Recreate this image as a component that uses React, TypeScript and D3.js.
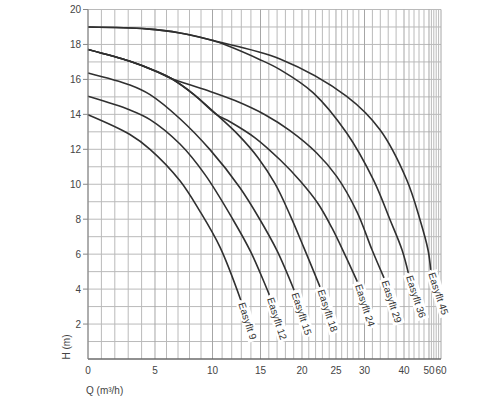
import { useEffect, useRef } from 'react'
import * as d3 from 'd3'

// Q axis is not linear: ticks get closer together towards the right
const Q_TICKS = [0, 5, 10, 15, 20, 25, 30, 40, 50, 60]
// share of the axis length at which each Q tick sits
const Q_TICK_STOPS = [0, 0.1898, 0.3527, 0.4887, 0.6062, 0.7025, 0.7833, 0.8952, 0.966, 1]
const H_TICKS = [2, 4, 6, 8, 10, 12, 14, 16, 18, 20]

// [Q (m³/h), H (m)]
const EASYFLT_9 = [[0, 13.98], [3.13, 12.85], [4.63, 12.0], [7.17, 10.2], [8.91, 8.45], [10.78, 6.4], [12.94, 3.38]]
const EASYFLT_12 = [[0, 15.03], [3.13, 14.25], [4.63, 13.7], [7.17, 12.3], [9.35, 10.55], [12.14, 7.97], [14.01, 6.1], [16.06, 3.67]]
const EASYFLT_15 = [[0, 16.37], [3.13, 15.68], [4.63, 15.13], [7.17, 13.75], [9.78, 11.98], [12.86, 9.8], [14.95, 7.97], [16.99, 6.2], [19.04, 3.95]]
const EASYFLT_18 = [[0, 17.71], [3.13, 17.04], [4.98, 16.5], [6.42, 16.05], [8.39, 15.13], [10.44, 13.98], [12.66, 12.84], [14.74, 11.52], [16.75, 10.03], [18.55, 8.25], [20.29, 6.36], [22.65, 4.13]]
const EASYFLT_24 = [[0, 17.71], [3.13, 17.04], [4.98, 16.5], [6.42, 16.05], [8.39, 15.13], [10.44, 13.98], [11.82, 13.58], [14.43, 12.66], [17.35, 11.4], [19.76, 10.2], [22.35, 8.9], [24.41, 7.5], [26.58, 5.96], [28.74, 4.43]]
const EASYFLT_29 = [[0, 17.71], [3.13, 17.04], [4.98, 16.5], [6.42, 16.05], [9.32, 15.42], [12.34, 14.79], [15.54, 13.98], [18.55, 13.07], [22.16, 11.79], [25.12, 10.45], [28.68, 8.42], [31.9, 6.25], [34.94, 4.64]]
const EASYFLT_36 = [[0, 19.0], [4.38, 18.89], [7.17, 18.66], [10.08, 18.22], [14.95, 17.13], [17.35, 16.56], [21.66, 15.23], [26.88, 12.93], [32.23, 10.26], [36.46, 7.97], [39.49, 6.25], [41.72, 4.93]]
const EASYFLT_45 = [[0, 19.0], [4.38, 18.89], [7.17, 18.66], [10.08, 18.22], [17.35, 17.17], [26.88, 15.03], [33.92, 13.12], [41.08, 10.26], [46.4, 7.97], [49.6, 6.25], [51.42, 5.1]]

const CURVES = [
  { label: 'Easyflt 9', points: EASYFLT_9 },
  { label: 'Easyflt 12', points: EASYFLT_12 },
  { label: 'Easyflt 15', points: EASYFLT_15 },
  { label: 'Easyflt 18', points: EASYFLT_18 },
  { label: 'Easyflt 24', points: EASYFLT_24 },
  { label: 'Easyflt 29', points: EASYFLT_29 },
  { label: 'Easyflt 36', points: EASYFLT_36 },
  { label: 'Easyflt 45', points: EASYFLT_45 },
]

const WIDTH = 500
const HEIGHT = 400
const MARGIN = { left: 88, right: 59, top: 9.5, bottom: 41 }
const FONT = '"Liberation Sans", Arial, sans-serif'

const App = () => {
  const svgRef = useRef<SVGSVGElement>(null)

  useEffect(() => {
    if (!svgRef.current) return
    const svg = d3.select(svgRef.current)
    svg.selectAll('*').remove()

    const plotW = WIDTH - MARGIN.left - MARGIN.right
    const x = d3.scaleLinear()
      .domain(Q_TICKS)
      .range(Q_TICK_STOPS.map(s => MARGIN.left + s * plotW))
    const y = d3.scaleLinear()
      .domain([0, 20])
      .range([HEIGHT - MARGIN.bottom, MARGIN.top])

    svg.append('rect').attr('width', WIDTH).attr('height', HEIGHT).attr('fill', '#fff')

    // grid: every metre, every m³/h up to 30 then every 2
    const grid = svg.append('g').attr('stroke', '#bababa').attr('stroke-width', 1)
    d3.range(0, 21).forEach(h => {
      grid.append('line')
        .attr('x1', x(0)).attr('x2', x(60))
        .attr('y1', y(h)).attr('y2', y(h))
    })
    const qGrid = [...d3.range(0, 31), ...d3.range(32, 61, 2)]
    qGrid.forEach(q => {
      grid.append('line')
        .attr('x1', x(q)).attr('x2', x(q))
        .attr('y1', y(0)).attr('y2', y(20))
        .attr('stroke', Q_TICKS.includes(q) ? '#a6a6a6' : null)
    })

    // curves
    const line = d3.line<number[]>()
      .x(d => x(d[0]))
      .y(d => y(d[1]))
      .curve(d3.curveCatmullRom.alpha(0.5))

    svg.append('g')
      .selectAll('path')
      .data(CURVES)
      .enter()
      .append('path')
      .attr('d', d => line(d.points) || '')
      .attr('fill', 'none')
      .attr('stroke', '#303030')
      .attr('stroke-width', 1.6)

    // model labels at the end of each curve
    CURVES.forEach(c => {
      const last = c.points[c.points.length - 1]
      const g = svg.append('g')
        .attr('transform', `translate(${x(last[0])},${y(last[1])}) rotate(72)`)
      const bg = g.append('rect').attr('fill', '#fff')
      const t = g.append('text')
        .attr('x', 3)
        .attr('dy', '0.35em')
        .attr('font-family', FONT)
        .attr('font-size', 10)
        .attr('fill', '#333')
        .text(c.label)
      const len = (t.node() as SVGTextElement).getComputedTextLength()
      bg.attr('x', 1).attr('y', -6).attr('width', len + 4).attr('height', 12)
    })

    // axes
    svg.append('line')
      .attr('x1', x(0)).attr('x2', x(60))
      .attr('y1', y(0)).attr('y2', y(0))
      .attr('stroke', '#444').attr('stroke-width', 1.2)
    svg.append('line')
      .attr('x1', x(0)).attr('x2', x(0))
      .attr('y1', y(0)).attr('y2', y(20))
      .attr('stroke', '#888').attr('stroke-width', 1)

    H_TICKS.forEach(h => {
      svg.append('line')
        .attr('x1', x(0) - 5).attr('x2', x(0))
        .attr('y1', y(h)).attr('y2', y(h))
        .attr('stroke', '#888')
      svg.append('text')
        .attr('x', x(0) - 7)
        .attr('y', y(h))
        .attr('dy', '0.35em')
        .attr('text-anchor', 'end')
        .attr('font-family', FONT)
        .attr('font-size', 10)
        .attr('fill', '#444')
        .text(h)
    })

    Q_TICKS.forEach(q => {
      svg.append('text')
        .attr('x', x(q))
        .attr('y', y(0) + 15)
        .attr('text-anchor', 'middle')
        .attr('font-family', FONT)
        .attr('font-size', 10)
        .attr('fill', '#444')
        .text(q)
    })

    svg.append('text')
      .attr('x', x(0) - 2)
      .attr('y', y(0) + 35)
      .attr('font-family', FONT)
      .attr('font-size', 10)
      .attr('fill', '#444')
      .text('Q (m³/h)')

    svg.append('text')
      .attr('transform', `translate(70, ${y(0) - 12}) rotate(-90)`)
      .attr('text-anchor', 'middle')
      .attr('font-family', FONT)
      .attr('font-size', 10)
      .attr('fill', '#444')
      .text('H (m)')
  }, [])

  return (
    <svg
      ref={svgRef}
      width={WIDTH}
      height={HEIGHT}
      style={{ position: 'absolute', left: 0, top: 0 }}
    ></svg>
  )
}

export default App
